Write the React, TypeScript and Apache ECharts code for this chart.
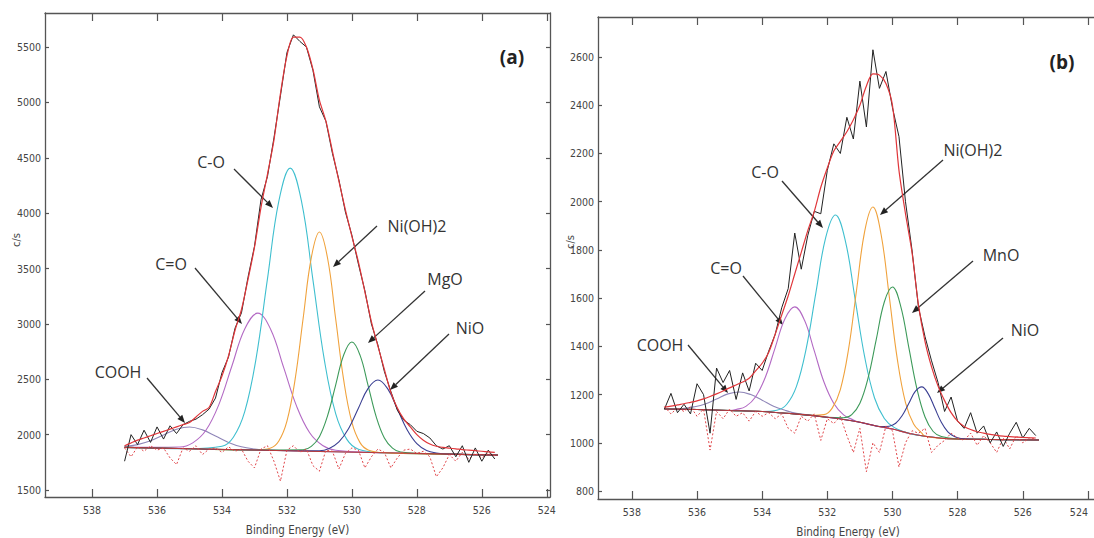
import React, { useEffect, useRef } from "react";
import * as echarts from "echarts";

// Binding-energy grid of the measured spectra (eV)
const E_GRID = [
  537.0, 536.8, 536.6, 536.4, 536.2,
  536.0, 535.8, 535.6, 535.4, 535.2,
  535.0, 534.8, 534.6, 534.4, 534.2,
  534.0, 533.8, 533.6, 533.4, 533.2,
  533.0, 532.8, 532.6, 532.4, 532.2,
  532.0, 531.8, 531.6, 531.4, 531.2,
  531.0, 530.8, 530.6, 530.4, 530.2,
  530.0, 529.8, 529.6, 529.4, 529.2,
  529.0, 528.8, 528.6, 528.4, 528.2,
  528.0, 527.8, 527.6, 527.4, 527.2,
  527.0, 526.8, 526.6, 526.4, 526.2,
  526.0, 525.8, 525.6,
];

// ---------- Panel (a) ----------
const RAW_A = [
  1760, 2000, 1910, 2040, 1930,
  2070, 1960, 2080, 2010, 2090,
  2120, 2140, 2180, 2230, 2330,
  2560, 2700, 2960, 3100, 3420,
  3700, 4120, 4330, 4680, 5060,
  5450, 5610, 5550, 5500, 5290,
  4960, 4830, 4540, 4300, 4010,
  3800, 3540, 3300, 3000, 2810,
  2570, 2390, 2220, 2130, 2090,
  2030, 2010, 1970, 1900, 1870,
  1900, 1800, 1900, 1750, 1880,
  1760, 1860, 1780,
];
const FIT_A = [
  1900, 1925, 1950, 1970, 1990,
  2010, 2030, 2050, 2070, 2090,
  2110, 2160, 2210, 2245, 2390,
  2530, 2710, 2940, 3130, 3400,
  3690, 4050, 4350, 4660, 5080,
  5420, 5590, 5590, 5500, 5300,
  5020, 4830, 4560, 4290, 4030,
  3790, 3560, 3290, 3020, 2800,
  2590, 2380, 2240, 2140, 2070,
  2000, 1950, 1915, 1895, 1885,
  1878, 1872, 1865, 1860, 1855,
  1850, 1845, 1840,
];
const RESID_A = [
  1880, 1800, 1890, 1850, 1900,
  1860, 1880, 1790, 1730, 1880,
  1850, 1900, 1820, 1870, 1880,
  1840, 1890, 1850, 1870, 1760,
  1700, 1870, 1900, 1760, 1580,
  1860, 1900, 1840, 1870, 1720,
  1670, 1860, 1850, 1690, 1830,
  1880, 1860, 1700, 1800, 1870,
  1840, 1700, 1790, 1860, 1870,
  1830, 1850, 1800, 1620, 1700,
  1820, 1760, 1840, 1780, 1830,
  1790, 1830, 1810,
];
const BG_A = [[537, 1885], [535, 1873], [533, 1861], [531, 1848], [529, 1836], [527, 1824], [525.5, 1815]];
const COOH_A = [[537.0, 1894], [536.6, 1910], [536.2, 1944], [535.8, 1997], [535.4, 2048], [535.0, 2069], [534.6, 2043], [534.2, 1987], [533.8, 1930], [533.4, 1890], [533.0, 1870], [532.6, 1860]];
const CdO_A = [[535.3, 1888], [534.9, 1926], [534.5, 2037], [534.1, 2269], [533.7, 2615], [533.3, 2954], [532.9, 3097], [532.5, 2950], [532.1, 2605], [531.7, 2255], [531.3, 2017], [530.9, 1902], [530.5, 1859]];
const CO_A = [[534.0, 1895], [533.65, 1977], [533.3, 2208], [532.95, 2689], [532.6, 3406], [532.25, 4108], [531.9, 4406], [531.55, 4104], [531.2, 3398], [530.85, 2677], [530.5, 2190], [530.15, 1955], [529.8, 1869]];
const NIOH_A = [[532.5, 1880], [532.25, 1943], [532.0, 2123], [531.75, 2496], [531.5, 3053], [531.25, 3598], [531.0, 3829], [530.75, 3595], [530.5, 3046], [530.25, 2487], [530.0, 2110], [529.75, 1928], [529.5, 1862]];
const MGO_A = [[531.5, 1863], [531.25, 1894], [531.0, 1982], [530.75, 2170], [530.5, 2448], [530.25, 2721], [530.0, 2836], [529.75, 2718], [529.5, 2443], [529.25, 2161], [529.0, 1970], [528.75, 1879], [528.5, 1844]];
const NIO_A = [[531.0, 1855], [530.7, 1875], [530.4, 1934], [530.1, 2056], [529.8, 2239], [529.5, 2418], [529.2, 2493], [528.9, 2415], [528.6, 2232], [528.3, 2045], [528.0, 1919], [527.7, 1857], [527.4, 1834]];

// ---------- Panel (b) ----------
const RAW_B = [
  1140, 1205, 1125, 1160, 1120,
  1245, 1200, 1040, 1310, 1250,
  1300, 1180, 1290, 1215, 1330,
  1300, 1380, 1450, 1560, 1640,
  1870, 1720, 1860, 1960, 1950,
  2130, 2240, 2200, 2350, 2260,
  2500, 2310, 2630, 2470, 2540,
  2390, 2270, 2000, 1800, 1560,
  1440, 1340, 1250, 1130, 1190,
  1090, 1060, 1125, 1040, 1070,
  1000, 1045, 985, 1040, 1085,
  1020, 1060, 1030,
];
const FIT_B = [
  1148, 1152, 1157, 1162, 1168,
  1174, 1182, 1192, 1203, 1215,
  1228, 1240, 1252, 1268, 1298,
  1330, 1375, 1450, 1530, 1610,
  1700, 1790, 1880, 1960, 2060,
  2140, 2210, 2250, 2290, 2340,
  2400, 2480, 2530, 2525, 2490,
  2400, 2130, 1950, 1790, 1570,
  1420, 1315, 1235, 1175, 1125,
  1090, 1068, 1055, 1046, 1040,
  1035, 1031, 1028, 1026, 1024,
  1022, 1021, 1020,
];
const RESID_B = [
  1150, 1120, 1145, 1130, 1150,
  1110, 1140, 970, 1130, 1100,
  1140, 1110, 1125, 1090, 1130,
  1110, 1125, 1100, 1120, 1060,
  1040, 1110, 1090, 1120, 1010,
  1100, 1080, 1110, 1030, 960,
  1060, 880, 1000, 960, 1070,
  1050, 900, 1000, 1050, 1040,
  1060, 960, 990, 1010, 1040,
  1020, 1010, 1040, 990, 1030,
  1000, 960, 1020, 975, 1030,
  1000, 1020, 1015,
];
const BG_B = [[537, 1140], [536, 1138], [535, 1134], [534, 1130], [533.5, 1125], [533, 1120], [532.5, 1114], [532, 1106], [531.5, 1097], [531, 1085], [530.5, 1070], [530, 1057], [529.5, 1040], [529, 1027], [528.5, 1019], [528, 1016], [527, 1014], [525.5, 1012]];
const COOH_B = [[536.8, 1141], [536.45, 1142], [536.1, 1149], [535.75, 1161], [535.4, 1182], [535.05, 1203], [534.7, 1211], [534.35, 1200], [534.0, 1177], [533.65, 1152], [533.3, 1135], [532.95, 1122], [532.6, 1116]];
const CdO_B = [[534.8, 1138], [534.5, 1151], [534.2, 1191], [533.9, 1273], [533.6, 1395], [533.3, 1515], [533.0, 1564], [532.7, 1508], [532.4, 1381], [532.1, 1251], [531.8, 1163], [531.5, 1116], [531.2, 1095]];
const CO_B = [[533.55, 1135], [533.25, 1159], [532.95, 1233], [532.65, 1390], [532.35, 1623], [532.05, 1851], [531.75, 1945], [531.45, 1840], [531.15, 1599], [530.85, 1354], [530.55, 1186], [530.25, 1101], [529.95, 1064]];
const NIOH_B = [[532.1, 1117], [531.85, 1144], [531.6, 1221], [531.35, 1387], [531.1, 1636], [530.85, 1879], [530.6, 1978], [530.35, 1865], [530.1, 1609], [529.85, 1346], [529.6, 1167], [529.35, 1078], [529.1, 1040]];
const MNO_B = [[531.5, 1104], [531.25, 1117], [531.0, 1164], [530.75, 1268], [530.5, 1427], [530.25, 1584], [530.0, 1646], [529.75, 1568], [529.5, 1397], [529.25, 1225], [529.0, 1107], [528.75, 1047], [528.5, 1026]];
const NIO_B = [[530.3, 1067], [530.1, 1069], [529.9, 1081], [529.7, 1113], [529.5, 1163], [529.3, 1213], [529.1, 1232], [528.9, 1203], [528.7, 1144], [528.5, 1085], [528.3, 1045], [528.1, 1026], [527.9, 1018]];

// Tick values
const X_TICKS = [524, 526, 528, 530, 532, 534, 536, 538];
const Y_TICKS_A = [1500, 2000, 2500, 3000, 3500, 4000, 4500, 5000, 5500];
const Y_TICKS_B = [800, 1000, 1200, 1400, 1600, 1800, 2000, 2200, 2400, 2600];

const COLORS = {
  cooh: "#8f86b8",
  cdo: "#b36ac4",
  co: "#3fbfcf",
  nioh: "#f0a23c",
  mgo: "#3d9a5a",
  nio: "#3a3f92",
  fit: "#e0363a",
  raw: "#222222",
  resid: "#e0464a",
  bg: "#b83a3a",
};

const AXIS_COLOR = "#555";
const TICK_FONT = "'Liberation Sans Narrow', 'DejaVu Sans Condensed', 'Liberation Sans', sans-serif";
const LABEL_FONT = "'Open Sans', 'Noto Sans', sans-serif";

function withBase(peak: number[][], base: number[][]) {
  const xs = peak.map((p) => p[0]);
  const hi = Math.max(...xs);
  const lo = Math.min(...xs);
  const pts = [...base.filter((p) => p[0] > hi + 0.05), ...peak, ...base.filter((p) => p[0] < lo - 0.05)];
  return pts.sort((a, b) => b[0] - a[0]);
}

function pair(xs: number[], ys: number[]) {
  return xs.map((x, i) => [x, ys[i]]);
}

export default function App() {
  const ref = useRef<HTMLDivElement>(null);
  useEffect(() => {
    if (!ref.current) return;
    const chart = echarts.init(ref.current, null, { renderer: "svg" });

    const xAx = (gridIndex: number, min: number, max: number, pos: "bottom" | "top", alignEdge = false) => ({
      type: "value",
      gridIndex,
      position: pos,
      inverse: true,
      min,
      max,
      name: pos === "bottom" ? "Binding Energy (eV)" : "",
      nameLocation: "middle",
      nameGap: 27,
      nameTextStyle: { fontFamily: TICK_FONT, fontSize: 11.5, color: "#444" },
      axisLine: { show: true, onZero: false, lineStyle: { color: AXIS_COLOR, width: 1.3 } },
      axisTick: { show: true, inside: true, length: 8, customValues: X_TICKS, lineStyle: { color: AXIS_COLOR, width: 1.2 } },
      axisLabel: {
        show: pos === "bottom",
        customValues: X_TICKS,
        formatter: (v: number) => String(v),
        margin: 7,
        fontFamily: TICK_FONT,
        fontSize: 10.5,
        color: "#444",
        ...(alignEdge ? { alignMinLabel: "right" } : {}),
      },
      splitLine: { show: false },
    });
    const yAx = (gridIndex: number, min: number, max: number, ticks: number[], pos: "left" | "right") => ({
      type: "value",
      gridIndex,
      position: pos,
      min,
      max,
      axisLine: { show: true, onZero: false, lineStyle: { color: AXIS_COLOR, width: 1.3 } },
      axisTick: { show: true, inside: true, length: 4, customValues: ticks, lineStyle: { color: AXIS_COLOR, width: 1.2 } },
      axisLabel: {
        show: pos === "left",
        customValues: ticks,
        formatter: (v: number) => String(v),
        margin: 4,
        fontFamily: TICK_FONT,
        fontSize: 10.5,
        color: "#444",
      },
      splitLine: { show: false },
    });

    const line = (data: any, color: string, xi: number, yi: number, extra: any = {}) => ({
      type: "line",
      xAxisIndex: xi,
      yAxisIndex: yi,
      data,
      showSymbol: false,
      symbol: "none",
      lineStyle: { color, width: 1.1 },
      silent: true,
      ...extra,
    });

    const comps = (list: [number[][], string][], base: number[][], xi: number, yi: number) =>
      list.map(([d, c]) => line(withBase(d, base), c, xi, yi, { smooth: 0.4 }));

    const series = [
      ...comps(
        [
          [COOH_A, COLORS.cooh],
          [CdO_A, COLORS.cdo],
          [CO_A, COLORS.co],
          [NIOH_A, COLORS.nioh],
          [MGO_A, COLORS.mgo],
          [NIO_A, COLORS.nio],
        ],
        BG_A,
        0,
        0
      ),
      line(BG_A, COLORS.bg, 0, 0),
      line(pair(E_GRID, RESID_A), COLORS.resid, 0, 0, { lineStyle: { color: COLORS.resid, width: 1, type: [2, 2] } }),
      line(pair(E_GRID, RAW_A), COLORS.raw, 0, 0, { lineStyle: { color: COLORS.raw, width: 1 } }),
      line(pair(E_GRID, FIT_A), COLORS.fit, 0, 0, { smooth: 0.3, lineStyle: { color: COLORS.fit, width: 1.2 } }),
      ...comps(
        [
          [COOH_B, COLORS.cooh],
          [CdO_B, COLORS.cdo],
          [CO_B, COLORS.co],
          [NIOH_B, COLORS.nioh],
          [MNO_B, COLORS.mgo],
          [NIO_B, COLORS.nio],
        ],
        BG_B,
        2,
        2
      ),
      line(BG_B, COLORS.bg, 2, 2, { smooth: 0.3 }),
      line(pair(E_GRID, RESID_B), COLORS.resid, 2, 2, { lineStyle: { color: COLORS.resid, width: 1, type: [2, 2] } }),
      line(pair(E_GRID, RAW_B), COLORS.raw, 2, 2, { lineStyle: { color: COLORS.raw, width: 1 } }),
      line(pair(E_GRID, FIT_B), COLORS.fit, 2, 2, { smooth: 0.3, lineStyle: { color: COLORS.fit, width: 1.2 } }),
    ];

    // annotations: [text, textX, textY, fromX, fromY, tipX, tipY]
    const notes: [string, number, number, number, number, number, number][] = [
      ["COOH", 118, 372, 147, 378, 185, 423],
      ["C=O", 171, 264, 195, 268, 242, 324],
      ["C-O", 211, 162, 234, 169, 273, 208],
      ["Ni(OH)2", 417, 226, 377, 226, 333, 267],
      ["MgO", 445, 279, 425, 291, 368, 343],
      ["NiO", 470, 328, 449, 334, 390, 390],
      ["COOH", 660, 345, 688, 345, 728, 393],
      ["C=O", 726, 268, 743, 276, 783, 325],
      ["C-O", 765, 172, 782, 181, 823, 228],
      ["Ni(OH)2", 973, 150, 943, 160, 880, 215],
      ["MnO", 1001, 255, 973, 261, 912, 313],
      ["NiO", 1025, 330, 1003, 338, 937, 393],
    ];
    const graphic: any[] = [];
    notes.forEach(([t, tx, ty, x1, y1, x2, y2]) => {
      graphic.push({
        type: "text",
        x: tx,
        y: ty,
        style: { text: t, fontSize: 16, fontFamily: LABEL_FONT, fill: "#333", align: "center", verticalAlign: "middle", textAlign: "center", textVerticalAlign: "middle" },
      });
      const dx = x2 - x1;
      const dy = y2 - y1;
      const L = Math.sqrt(dx * dx + dy * dy);
      const ux = dx / L;
      const uy = dy / L;
      const hl = 8;
      const hw = 3.2;
      const bx = x2 - ux * hl;
      const by = y2 - uy * hl;
      graphic.push({
        type: "line",
        shape: { x1, y1, x2: bx, y2: by },
        style: { stroke: "#333", lineWidth: 1.3 },
      });
      graphic.push({
        type: "polygon",
        shape: {
          points: [
            [x2, y2],
            [bx - uy * hw, by + ux * hw],
            [bx + uy * hw, by - ux * hw],
          ],
        },
        style: { fill: "#222" },
      });
    });
    graphic.push(
      { type: "text", x: 512, y: 57, style: { text: "(a)", fontSize: 19, fontWeight: "bold", fontFamily: LABEL_FONT, fill: "#222", align: "center", verticalAlign: "middle", textAlign: "center", textVerticalAlign: "middle" } },
      { type: "text", x: 1062, y: 62, style: { text: "(b)", fontSize: 19, fontWeight: "bold", fontFamily: LABEL_FONT, fill: "#222", align: "center", verticalAlign: "middle", textAlign: "center", textVerticalAlign: "middle" } },
      { type: "text", x: 16, y: 240, rotation: Math.PI / 2, style: { text: "c/s", fontSize: 11, fontFamily: TICK_FONT, fill: "#444", align: "center", verticalAlign: "middle", textAlign: "center", textVerticalAlign: "middle" } },
      { type: "text", x: 570, y: 242, rotation: Math.PI / 2, style: { text: "c/s", fontSize: 11, fontFamily: TICK_FONT, fill: "#444", align: "center", verticalAlign: "middle", textAlign: "center", textVerticalAlign: "middle" } }
    );

    chart.setOption({
      animation: false,
      backgroundColor: "#ffffff",
      grid: [
        { left: 45, top: 13, width: 505, height: 484, containLabel: false, outerBoundsMode: "none" },
        { left: 598, top: 17, width: 500, height: 482, containLabel: false, outerBoundsMode: "none" },
      ],
      xAxis: [
        xAx(0, 523.9, 539.45, "bottom"),
        xAx(0, 523.9, 539.45, "top"),
        xAx(1, 523.69, 539.04, "bottom", true),
        xAx(1, 523.69, 539.04, "top"),
      ],
      yAxis: [
        yAx(0, 1437, 5807, Y_TICKS_A, "left"),
        yAx(0, 1437, 5807, Y_TICKS_A, "right"),
        yAx(1, 767, 2766, Y_TICKS_B, "left"),
        yAx(1, 767, 2766, Y_TICKS_B, "right"),
      ],
      series,
      graphic,
    });
    return () => chart.dispose();
  }, []);
  return <div ref={ref} style={{ position: "fixed", left: 0, top: 0, width: 1094, height: 538, background: "#fff" }} />;
}
